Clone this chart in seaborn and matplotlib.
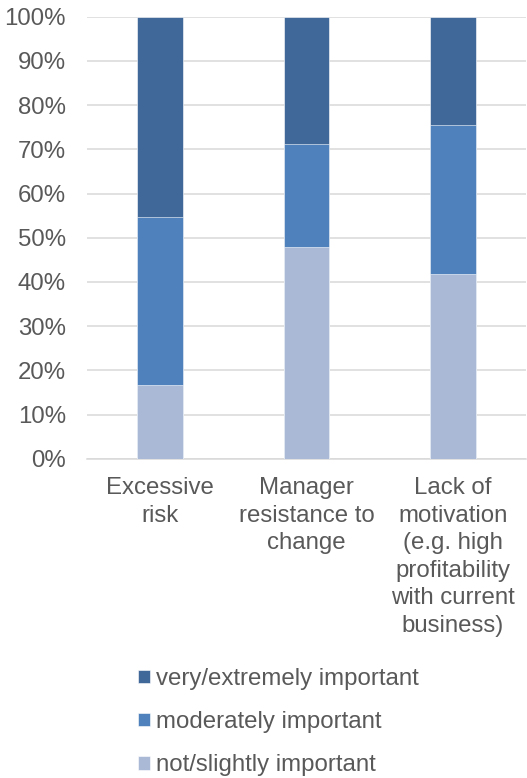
import matplotlib
matplotlib.use("Agg")
import matplotlib.pyplot as plt
import seaborn as sns
import pandas as pd

# Share of respondents (%) per barrier, by importance rating
categories = [
    "Excessive\nrisk",
    "Manager\nresistance to\nchange",
    "Lack of\nmotivation\n(e.g. high\nprofitability\nwith current\nbusiness)",
]
not_slightly = [16.7, 47.9, 41.9]
moderately = [37.9, 23.4, 33.7]
very_extremely = [45.4, 28.7, 24.4]

series_labels = ["very/extremely important", "moderately important", "not/slightly important"]
colors = ["#406999", "#4F81BD", "#AAB9D6"]
text_color = "#595959"
grid_color = "#D9D9D9"
font_size = 17.3

sns.set_theme(style="white")
plt.rcParams["font.family"] = ["Liberation Sans", "DejaVu Sans"]

df = pd.DataFrame({
    "category": categories,
    "not": not_slightly,
    "mod": moderately,
    "very": very_extremely,
})
# cumulative heights for stacking, tallest drawn first
df["top_not"] = df["not"]
df["top_mod"] = df["not"] + df["mod"]
df["top_very"] = df["top_mod"] + df["very"]

fig = plt.figure(figsize=(5.27, 7.78), dpi=100)
ax = fig.add_axes([0.1646, 0.4104, 0.834, 0.5681])

for col, lab, c in zip(["top_very", "top_mod", "top_not"], series_labels, colors):
    sns.barplot(data=df, x="category", y=col, color=c, width=0.31,
                label=lab, ax=ax, edgecolor="#FFFFFF", linewidth=0.4,
                saturation=1, zorder=3)

ax.set_ylim(0, 100)
ax.set_xlim(-0.5, 2.5)
ax.set_yticks(range(0, 101, 10))
ax.set_yticklabels([f"{v}%" for v in range(0, 101, 10)])
ax.set_xlabel("")
ax.set_ylabel("")

ax.yaxis.grid(True, color=grid_color, linewidth=1.1, zorder=0)
ax.set_axisbelow(True)
for side in ["top", "right", "left"]:
    ax.spines[side].set_visible(False)
ax.spines["bottom"].set_color(grid_color)
ax.spines["bottom"].set_linewidth(1.1)

ax.tick_params(axis="y", length=0, pad=15.0, labelsize=font_size, labelcolor=text_color)
ax.tick_params(axis="x", length=0, pad=13.5, labelsize=font_size, labelcolor=text_color)
for t in ax.get_xticklabels():
    t.set_multialignment("center")
    t.set_verticalalignment("top")
    t.set_linespacing(1.32)

handles, labels = ax.get_legend_handles_labels()
ax.legend(handles, labels, loc="upper left", bbox_to_anchor=(138.3 / 527, 1 - 668 / 778),
          bbox_transform=fig.transFigure, frameon=False, fontsize=font_size,
          labelcolor=text_color, handlelength=0.5, handleheight=0.5,
          handletextpad=0.25, labelspacing=0.88, borderpad=0, borderaxespad=0)

fig.savefig("out.png", dpi=100)
